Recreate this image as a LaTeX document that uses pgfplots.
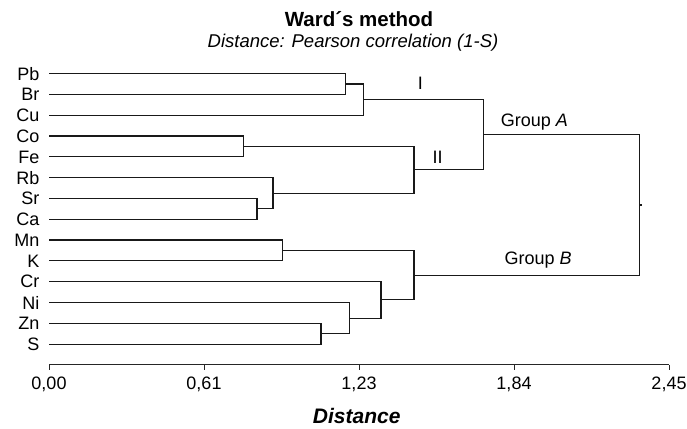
\documentclass[border=0pt]{standalone}
\usepackage{fontspec}
\setmainfont{Liberation Sans}
\usepackage{pgfplots}
\pgfplotsset{compat=1.18}
\tikzset{dend/.style={black!90, line width=1.2pt, solid, mark=none}}
\begin{document}
\begin{tikzpicture}
\path[use as bounding box] (-49pt,-63.1pt) rectangle (638pt,364.9pt);
\begin{axis}[
  at={(0pt,0pt)}, anchor=south west,
  scale only axis, width=620pt, height=303.68pt,
  xmin=0, xmax=2.45, ymin=0, ymax=14.6,
  axis lines*=left,
  y axis line style={draw=none},
  x axis line style={line width=1pt, black!85},
  xtick={0,0.6125,1.225,1.8375,2.45},
  xticklabels={{0,00},{0,61},{1,23},{1,84},{2,45}},
  xticklabel style={font=\fontsize{18}{18}\selectfont, yshift=-3pt},
  /pgf/number format/assume math mode=true,
  tick align=outside,
  xtick style={line width=1pt, black!85},
  major tick length=5pt,
  ytick={1,...,14},
  yticklabels={S,Zn,Ni,Cr,K,Mn,Ca,Sr,Rb,Fe,Co,Cu,Br,Pb},
  ytick style={draw=none},
  yticklabel style={font=\fontsize{18}{18}\selectfont, xshift=-1pt},
  clip=false,
]
\addplot[dend] coordinates {(0,14)(1.172,14)(1.172,13)(0,13)};
\addplot[dend] coordinates {(1.172,13.5)(1.243,13.5)(1.243,12)(0,12)};
\addplot[dend] coordinates {(0,11)(0.767,11)(0.767,10)(0,10)};
\addplot[dend] coordinates {(0,8)(0.822,8)(0.822,7)(0,7)};
\addplot[dend] coordinates {(0,9)(0.885,9)(0.885,7.5)(0.822,7.5)};
\addplot[dend] coordinates {(0.767,10.5)(1.442,10.5)(1.442,8.25)(0.885,8.25)};
\addplot[dend] coordinates {(1.243,12.75)(1.716,12.75)(1.716,9.375)(1.442,9.375)};
\addplot[dend] coordinates {(0,6)(0.923,6)(0.923,5)(0,5)};
\addplot[dend] coordinates {(0,2)(1.075,2)(1.075,1)(0,1)};
\addplot[dend] coordinates {(0,3)(1.188,3)(1.188,1.5)(1.075,1.5)};
\addplot[dend] coordinates {(0,4)(1.312,4)(1.312,2.25)(1.188,2.25)};
\addplot[dend] coordinates {(0.923,5.5)(1.442,5.5)(1.442,3.125)(1.312,3.125)};
\addplot[dend] coordinates {(1.716,11.0625)(2.334,11.0625)(2.334,4.3125)(1.442,4.3125)};
\addplot[dend] coordinates {(2.334,7.6875)(2.342,7.6875)};
\node[font=\fontsize{18}{18}\selectfont] at (axis cs:1.468,13.54) {I};
\node[font=\fontsize{18}{18}\selectfont] at (axis cs:1.536,9.96) {II};
\node[font=\fontsize{18}{18}\selectfont, anchor=west, inner sep=0pt] at (axis cs:1.785,11.66) {Group \textit{A}};
\node[font=\fontsize{18}{18}\selectfont, anchor=west, inner sep=0pt] at (axis cs:1.80,5.06) {Group \textit{B}};
\end{axis}
\node[font=\bfseries\fontsize{20.5}{22}\selectfont, anchor=base] at (310pt,337.9pt) {Ward´s method};
\node[font=\itshape\fontsize{18.5}{20}\selectfont, anchor=base] at (304pt,317pt) {Distance: Pearson correlation (1-S)};
\node[font=\bfseries\itshape\fontsize{21}{22}\selectfont, anchor=base] at (307.7pt,-59pt) {Distance};
\end{tikzpicture}
\end{document}
